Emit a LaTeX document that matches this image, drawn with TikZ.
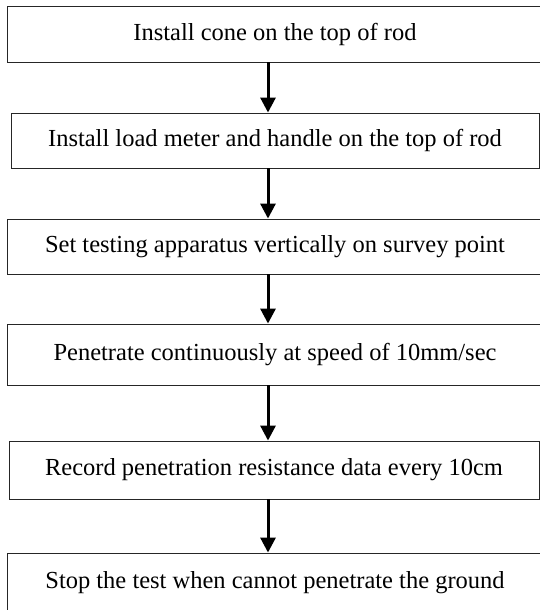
\documentclass[tikz,border=0pt]{standalone}
\usepackage{fontspec}
\setmainfont{Liberation Serif}
\usetikzlibrary{arrows.meta}
\begin{document}
\begin{tikzpicture}[x=1pt,y=-1pt,font=\fontsize{24.5}{28}\selectfont,stepbox/.style={draw=black!85, line width=0.9pt, minimum width=536pt, minimum height=55pt, inner sep=0pt},link/.style={line width=3pt, -{Triangle[width=15pt,length=15pt]}}]
\useasboundingbox (0,0) rectangle (540,610);
\node[stepbox, minimum height=56pt] (cone) at (275,34) {Install cone on the top of rod};
\node[stepbox, minimum width=528pt] (meter) at (275,140.5) {Install load meter and handle on the top of rod};
\node[stepbox] (setup) at (275,246.5) {Set testing apparatus vertically on survey point};
\node[stepbox, minimum height=61pt] (push) at (275,354.5) {Penetrate continuously at speed of 10mm/sec};
\node[stepbox, minimum width=530pt, minimum height=58pt] (record) at (274,470) {Record penetration resistance data every 10cm};
\node[stepbox, minimum height=60pt] (stop) at (275,583) {Stop the test when cannot penetrate the ground};
\draw[link] ([xshift=-7pt]cone.south) -- ([xshift=-7pt]meter.north);
\draw[link] ([xshift=-7pt]meter.south) -- ([xshift=-7pt]setup.north);
\draw[link] ([xshift=-7pt]setup.south) -- ([xshift=-7pt]push.north);
\draw[link] ([xshift=-7pt]push.south) -- ([xshift=-6pt]record.north);
\draw[link] ([xshift=-6pt]record.south) -- ([xshift=-7pt]stop.north);
\end{tikzpicture}
\end{document}
